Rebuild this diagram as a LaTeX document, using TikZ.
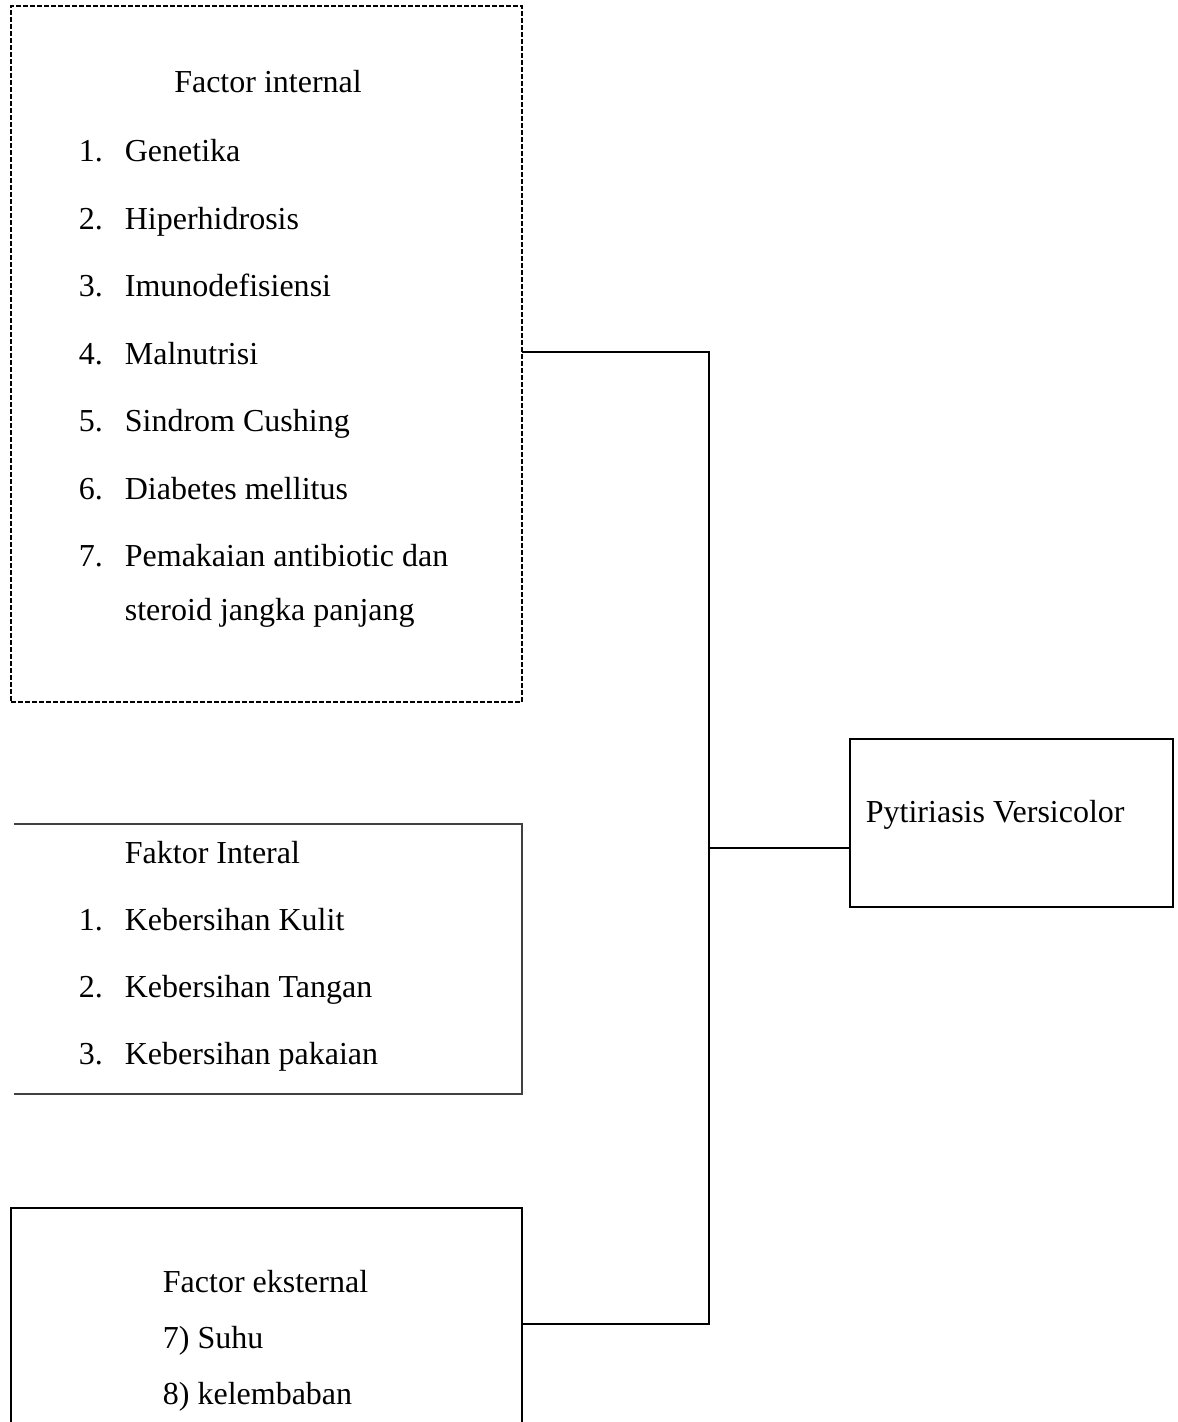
\documentclass[tikz,border=0pt]{standalone}
\usepackage{fontspec}
\setmainfont{Liberation Serif}
\usetikzlibrary{
	positioning,
}
\tikzset{factorbox/.style={
		% The shape:
		rectangle,
		% The size:
		minimum width=255.5pt,
		inner sep=0pt,
		outer sep=0pt,
}}
\tikzset{entry/.style={
		% The anchor:
		anchor=base west,
		inner sep=0pt,
		% The font:
		font=\fontsize{16}{19}\selectfont,
}}
\tikzset{nextitem/.style={below=of #1.base west,anchor=base west}}
\newcommand{\itemno}[1]{\makebox[23pt][l]{#1}}

\begin{document}
\begin{tikzpicture}[
	x=0.5pt,y=-0.5pt,
	line width=0.9pt,black,
	node distance = 33.7pt
	]
	\useasboundingbox (0,0) rectangle (1177,1422);
	
	%% internal factors
	\node (fint) [factorbox,minimum height=348pt,draw,line width=0.6pt,dash pattern=on 2.5pt off 1pt] at (266.5,354) { };
	\node (tint) [entry,anchor=base] at (268,93) {Factor internal};
	\node (i1) [entry] at (78,162) {\itemno{1.}Genetika};
	\node (i2) [entry,nextitem=i1] {\itemno{2.}Hiperhidrosis};
	\node (i3) [entry,nextitem=i2] {\itemno{3.}Imunodefisiensi};
	\node (i4) [entry,nextitem=i3] {\itemno{4.}Malnutrisi};
	\node (i5) [entry,nextitem=i4] {\itemno{5.}Sindrom Cushing};
	\node (i6) [entry,nextitem=i5] {\itemno{6.}Diabetes mellitus};
	\node (i7) [entry,nextitem=i6] {\itemno{7.}Pemakaian antibiotic dan};
	\node (i7b) [entry,below=27pt of i7.base west,anchor=base west,xshift=23pt] {steroid jangka panjang};
	
	%% hygiene factors
	\node (fhyg) [factorbox,minimum width=254pt,minimum height=135pt] at (268,959) { };
	\draw[line width=0.6pt,black!75] (fhyg.north west) -- (fhyg.north east) -- (fhyg.south east) -- (fhyg.south west);
	\node (thyg) [entry] at (124,863) {Faktor Interal};
	\node (k1) [entry] at (78,930) {\itemno{1.}Kebersihan Kulit};
	\node (k2) [entry,nextitem=k1] {\itemno{2.}Kebersihan Tangan};
	\node (k3) [entry,nextitem=k2] {\itemno{3.}Kebersihan pakaian};
	
	%% external factors
	\node (fext) [factorbox,minimum height=116pt] at (266.5,1324) { };
	\draw (fext.south west) -- (fext.north west) -- (fext.north east) -- (fext.south east);
	\node (text) [entry] at (162,1292) {Factor eksternal};
	\node (e1) [entry,below=28pt of text.base west,anchor=base west] {7) Suhu};
	\node (e2) [entry,below=28pt of e1.base west,anchor=base west] {8) kelembaban};
	
	%% outcome
	\node (pv) [factorbox,minimum width=161.5pt,minimum height=84pt,draw] at (1011.5,823) { };
	\node (tpv) [entry] at (865,822) {Pytiriasis Versicolor};
	
	%% connectors
	\coordinate (jtop) at (709,352);
	\coordinate (jmid) at (709,848);
	\coordinate (jbot) at (709,1324);
	\draw (fint.east |- jtop) -- (jtop) -- (jbot) -- (fext.east);
	\draw (jmid) -- (pv.west |- jmid);
	
\end{tikzpicture}
\end{document}
